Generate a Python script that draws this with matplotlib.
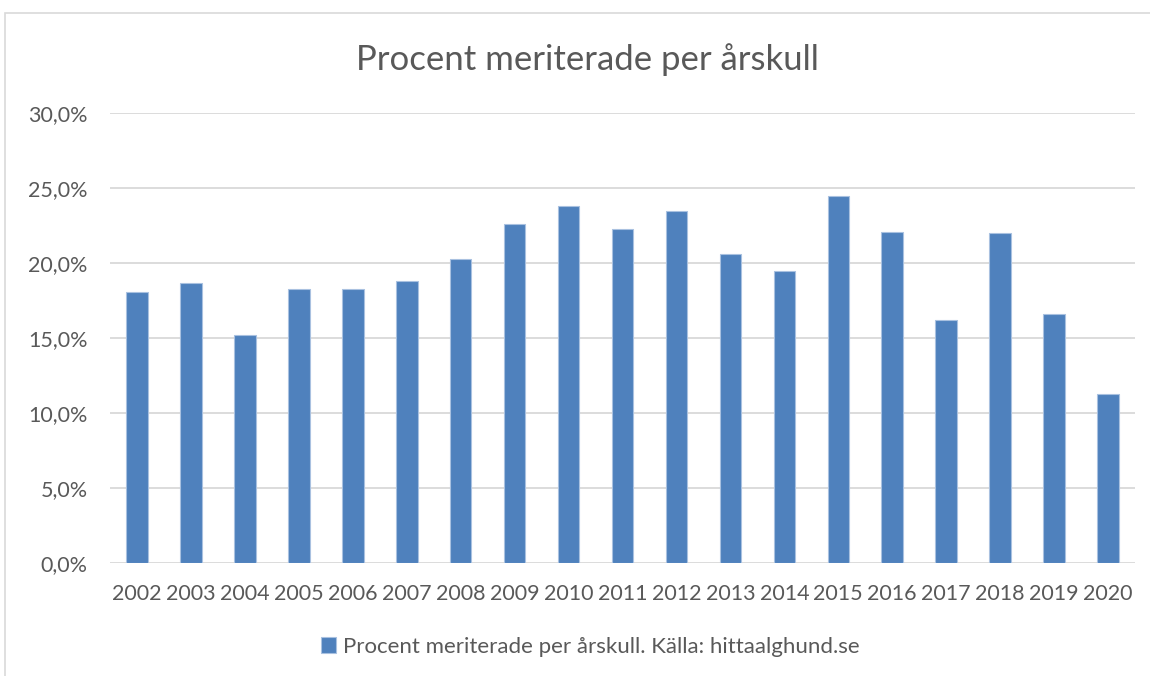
import matplotlib
matplotlib.use("Agg")
import matplotlib.pyplot as plt
from matplotlib.patches import Rectangle

years = ["2002", "2003", "2004", "2005", "2006", "2007", "2008", "2009", "2010", "2011",
         "2012", "2013", "2014", "2015", "2016", "2017", "2018", "2019", "2020"]
values = [18.1, 18.7, 15.2, 18.3, 18.3, 18.8, 20.3, 22.6, 23.8, 22.3,
          23.5, 20.6, 19.5, 24.5, 22.1, 16.2, 22.0, 16.6, 11.3]
yticks = [0, 5, 10, 15, 20, 25, 30]
ytick_labels = ["0,0%", "5,0%", "10,0%", "15,0%", "20,0%", "25,0%", "30,0%"]
title = "Procent meriterade per årskull"
series_name = "Procent meriterade per årskull. Källa: hittaalghund.se"

FONT = ["Lato", "DejaVu Sans"]
plt.rcParams["font.family"] = FONT
TXT = "#595959"
BAR = "#4F81BD"
GRID = "#D9D9D9"

W, H = 1150, 676
fig = plt.figure(figsize=(W / 100, H / 100), dpi=100)
fig.patch.set_facecolor("white")

# chart-area border (cropped at right/bottom)
fig.patches.append(Rectangle((5 / W, -0.1), 1.2, 1 - 13 / H + 0.1, transform=fig.transFigure,
                             fill=False, edgecolor=GRID, linewidth=1.2))

ax = fig.add_axes([110 / W, 1 - 563 / H, (1135 - 110) / W, (563 - 113) / H])
x = list(range(len(years)))
ax.bar(x, values, width=0.4, color=BAR, edgecolor="#A9C1E0", linewidth=0.8, zorder=3,
       label=series_name)
ax.set_xlim(-0.5, len(years) - 0.5)
ax.set_ylim(0, 30)
ax.set_yticks(yticks)
ax.set_yticklabels(ytick_labels)
ax.set_xticks(x)
ax.set_xticklabels(years)
for s in ax.spines.values():
    s.set_visible(False)
ax.grid(axis="y", color=GRID, linewidth=1.3, zorder=0)
ax.tick_params(axis="both", length=0, colors=TXT, labelsize=15.5)
ax.tick_params(axis="x", pad=15)
ax.tick_params(axis="y", pad=16)

fig.text(587 / W, 1 - 60 / H, title, ha="center", va="center", fontsize=25, color=TXT)

leg = fig.legend(loc="center", bbox_to_anchor=(590 / W, 1 - 647 / H), frameon=False,
                 fontsize=16, handlelength=0.7, handleheight=0.7, handletextpad=0.3,
                 labelcolor=TXT)

fig.savefig("out.png", dpi=100, facecolor="white")
